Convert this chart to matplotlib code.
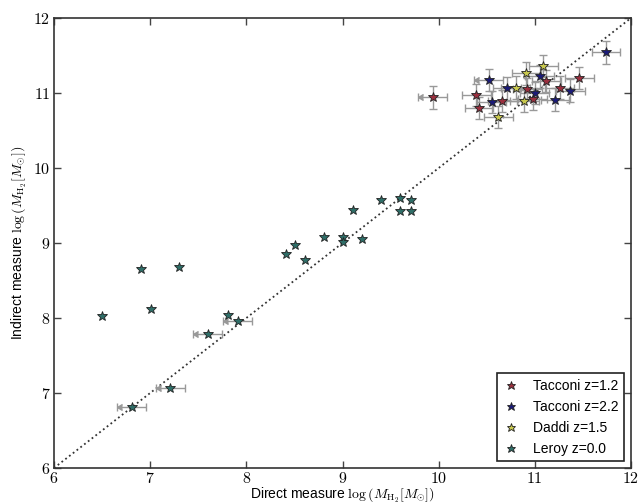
import matplotlib
matplotlib.use("Agg")
import matplotlib.pyplot as plt
import matplotlib.markers as mmarkers
import numpy as np

# ---- data ----
tacconi12_x = [9.94, 10.39, 10.42, 10.66, 10.92, 10.98, 11.12, 11.26, 11.46]
tacconi12_y = [10.94, 10.97, 10.80, 10.89, 11.05, 10.92, 11.16, 11.07, 11.20]
tacconi12_lim = [True, False, False, False, False, False, False, False, False]

tacconi22_x = [10.52, 10.55, 10.71, 11.00, 11.05, 11.21, 11.37, 11.74]
tacconi22_y = [11.17, 10.88, 11.06, 11.00, 11.22, 10.91, 11.03, 11.54]
tacconi22_lim = [True, False, False, False, False, False, False, False]

daddi_x = [10.62, 10.80, 10.89, 10.91, 11.09]
daddi_y = [10.68, 11.07, 10.89, 11.26, 11.36]
daddi_lim = [False, False, False, False, False]

leroy_x = [6.50, 6.81, 6.90, 7.01, 7.21, 7.30, 7.60, 7.81, 7.91, 8.41, 8.51,
           8.61, 8.81, 9.01, 9.01, 9.11, 9.20, 9.40, 9.60, 9.60, 9.71, 9.71]
leroy_y = [8.03, 6.82, 8.65, 8.12, 7.07, 8.68, 7.79, 8.04, 7.96, 8.85, 8.98,
           8.77, 9.08, 9.08, 9.01, 9.44, 9.06, 9.58, 9.60, 9.43, 9.57, 9.43]
leroy_err = [False, True, False, False, True, False, True, False, True, False, False,
             False, False, False, False, False, False, False, False, False, False, False]

hi_xerr = 0.15
hi_yerr = 0.15
leroy_xerr = 0.15

labels = ["Tacconi z=1.2", "Tacconi z=2.2", "Daddi z=1.5", "Leroy z=0.0"]
colors = ["#9a2f3e", "#1b1b78", "#c9c94e", "#2f6e68"]
ticks = [6, 7, 8, 9, 10, 11, 12]

# ---- style ----
plt.rcParams["mathtext.fontset"] = "cm"
plt.rcParams["font.family"] = ["Liberation Sans", "DejaVu Sans"]

fig = plt.figure(figsize=(6.39, 5.04), dpi=100)
ax = fig.add_axes([0.0845, 0.0714, 0.9030, 0.8929])

errc = "#999999"

def draw_arrows(xs, ys, lims, xe):
    xs = np.asarray(xs); ys = np.asarray(ys); lims = np.asarray(lims)
    if lims.any():
        ax.plot(xs[lims] - xe, ys[lims], linestyle="none",
                marker=mmarkers.CARETLEFT, ms=4.5, color=errc, zorder=2)

for xs, ys, lims in [(tacconi12_x, tacconi12_y, tacconi12_lim),
                     (tacconi22_x, tacconi22_y, tacconi22_lim),
                     (daddi_x, daddi_y, daddi_lim)]:
    ax.errorbar(xs, ys, xerr=hi_xerr, yerr=hi_yerr, fmt="none", ecolor=errc,
                elinewidth=1, capsize=3, capthick=1, zorder=2)
    draw_arrows(xs, ys, lims, hi_xerr)

lx = np.asarray(leroy_x); ly = np.asarray(leroy_y); le = np.asarray(leroy_err)
ax.errorbar(lx[le], ly[le], xerr=leroy_xerr, fmt="none", ecolor=errc,
            elinewidth=1, capsize=3, capthick=1, zorder=2)
draw_arrows(leroy_x, leroy_y, leroy_err, leroy_xerr)

# one-to-one line
ax.plot([ticks[0], ticks[-1]], [ticks[0], ticks[-1]], linestyle=":", color="#333333",
        lw=1.3, zorder=1)

for xs, ys, c, lab in [(tacconi12_x, tacconi12_y, colors[0], labels[0]),
                       (tacconi22_x, tacconi22_y, colors[1], labels[1]),
                       (daddi_x, daddi_y, colors[2], labels[2]),
                       (leroy_x, leroy_y, colors[3], labels[3])]:
    ax.plot(xs, ys, linestyle="none", marker="*", ms=7.5, color=c,
            markeredgecolor="#222222", markeredgewidth=0.6, label=lab, zorder=3)

ax.set_xlim(ticks[0], ticks[-1])
ax.set_ylim(ticks[0], ticks[-1])
ax.set_xticks(ticks)
ax.set_yticks(ticks)
ax.set_xticklabels([f"${t}$" for t in ticks], fontsize=11.5)
ax.set_yticklabels([f"${t}$" for t in ticks], fontsize=11.5)
ax.tick_params(direction="in", top=True, right=True, length=5, width=1, pad=2.5,
               color="#444444")
for s in ax.spines.values():
    s.set_linewidth(1.2)
    s.set_color("#333333")

ax.set_xlabel(r"Direct measure $\log\left(M_{\rm H_2}[M_{\odot}]\right)$", fontsize=10,
              labelpad=-0.5)
ax.set_ylabel(r"Indirect measure $\log\left(M_{\rm H_2}[M_{\odot}]\right)$", fontsize=10,
              labelpad=3)

leg = ax.legend(loc="lower right", numpoints=1, fontsize=10, markerscale=0.85,
                fancybox=False, framealpha=1, edgecolor="#222222",
                handlelength=1.2, handletextpad=1.0, borderaxespad=0.5,
                labelspacing=0.5)
leg.get_frame().set_linewidth(1.2)

fig.savefig("out.png", dpi=100)
